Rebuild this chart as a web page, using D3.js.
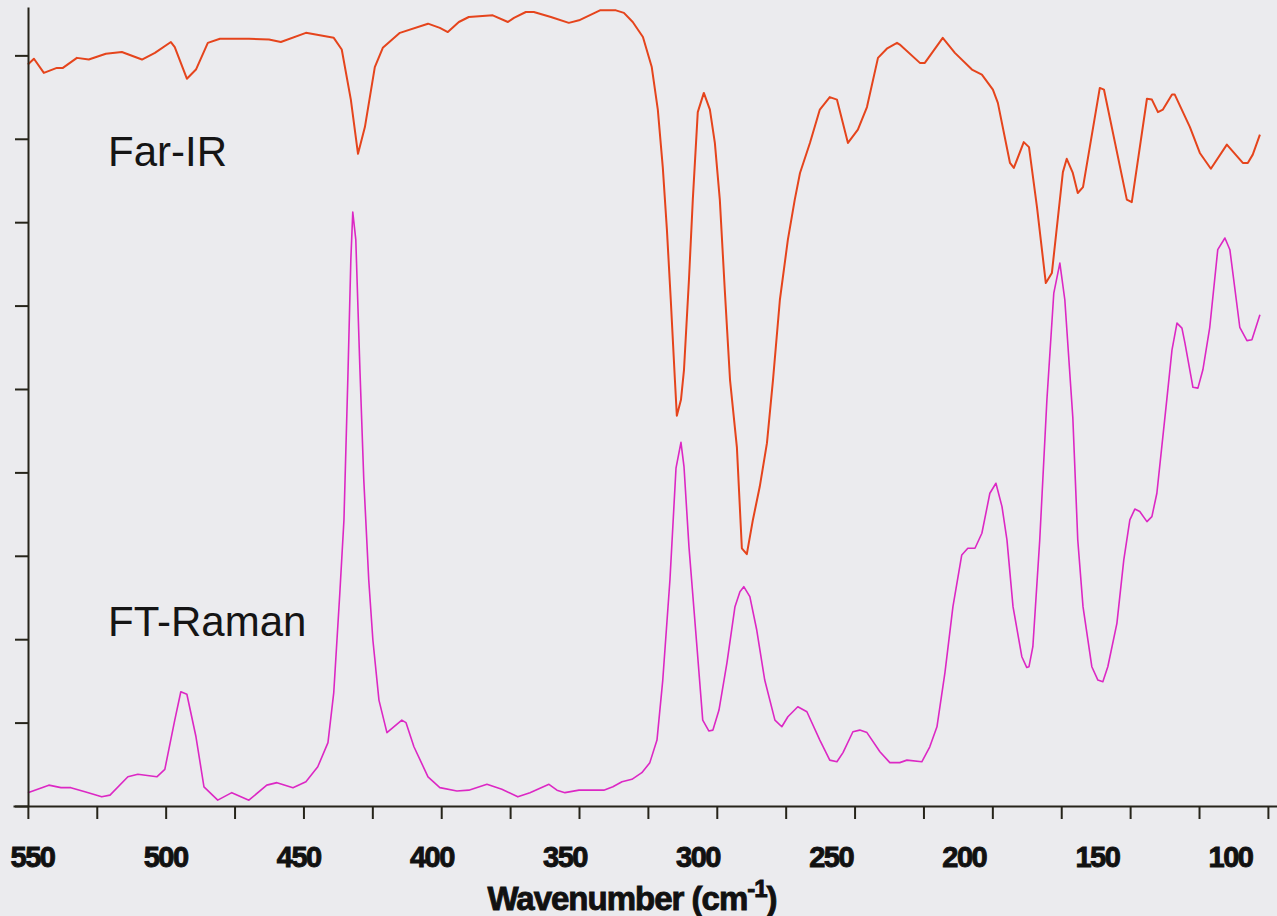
<!DOCTYPE html>
<html>
<head>
<meta charset="utf-8">
<script src="https://cdn.jsdelivr.net/npm/d3@7"></script>
<style>
    html, body { margin: 0; padding: 0; background: #ebebee; }
    svg { display: block; }
    .axis path, .axis line { stroke: #26241a; }
    .tick-label text { font-family: "Liberation Sans", Arial, sans-serif; font-weight: 900; fill: #111; stroke: #111; stroke-width: 0.9px; }
    .series-label { font-family: "Liberation Sans", Arial, sans-serif; font-size: 42px; fill: #151515; }
    .axis-title { font-family: "Liberation Sans", Arial, sans-serif; font-weight: 900; font-size: 33px; fill: #111; stroke: #111; stroke-width: 0.9px; }
</style>
</head>
<body>
<svg id="chart"></svg>
<script>
// wavenumber (cm-1) and relative signal
const irWavenumber = [550.0, 547.8, 544.2, 539.5, 537.3, 532.2, 527.9, 521.7, 515.9, 508.6, 503.9, 498.1, 496.7, 492.3, 489.0, 484.7, 480.3, 469.8, 462.5, 458.2, 449.1, 439.0, 436.1, 432.8, 430.2, 427.7, 424.1, 421.2, 415.0, 404.8, 400.5, 397.6, 393.6, 390.0, 381.3, 375.8, 373.6, 369.3, 366.4, 360.2, 353.7, 350.0, 342.4, 336.6, 333.7, 330.5, 326.8, 323.6, 321.4, 319.6, 318.1, 316.7, 315.2, 314.5, 313.0, 311.9, 310.1, 308.7, 306.9, 304.7, 302.5, 300.7, 298.9, 297.1, 295.2, 292.7, 290.9, 289.1, 286.9, 284.4, 281.8, 279.6, 277.1, 274.2, 271.7, 269.8, 266.2, 262.6, 259.0, 256.4, 252.4, 248.8, 245.5, 241.5, 238.3, 234.6, 233.6, 226.3, 224.5, 218.0, 213.6, 207.4, 203.8, 199.8, 198.0, 193.6, 192.2, 188.6, 186.7, 183.8, 180.6, 178.4, 174.4, 173.0, 170.8, 169.0, 167.1, 161.0, 159.5, 151.2, 149.4, 143.9, 142.1, 139.9, 138.1, 134.8, 133.8, 128.3, 124.7, 120.7, 114.9, 109.1, 107.3, 105.5, 102.9];
const irSignal = [8.89, 8.96, 8.79, 8.85, 8.85, 8.97, 8.95, 9.02, 9.04, 8.95, 9.03, 9.16, 9.10, 8.72, 8.83, 9.15, 9.20, 9.20, 9.19, 9.16, 9.27, 9.21, 9.07, 8.47, 7.82, 8.14, 8.86, 9.09, 9.27, 9.38, 9.33, 9.28, 9.40, 9.46, 9.48, 9.40, 9.45, 9.52, 9.52, 9.46, 9.39, 9.42, 9.54, 9.54, 9.51, 9.40, 9.22, 8.86, 8.35, 7.66, 6.91, 6.07, 5.11, 4.68, 4.87, 5.23, 6.31, 7.27, 8.32, 8.55, 8.35, 7.95, 7.27, 6.19, 5.11, 4.30, 3.09, 3.02, 3.43, 3.83, 4.35, 5.11, 6.07, 6.79, 7.27, 7.59, 7.95, 8.35, 8.50, 8.47, 7.95, 8.11, 8.38, 8.97, 9.08, 9.15, 9.13, 8.91, 8.91, 9.21, 9.03, 8.83, 8.77, 8.59, 8.43, 7.71, 7.65, 7.96, 7.90, 7.18, 6.27, 6.39, 7.60, 7.76, 7.59, 7.35, 7.42, 8.61, 8.59, 7.27, 7.24, 8.48, 8.47, 8.32, 8.35, 8.53, 8.53, 8.14, 7.83, 7.64, 7.93, 7.71, 7.71, 7.81, 8.05];

const ramanWavenumber = [550.0, 542.4, 538.0, 534.4, 529.3, 523.2, 520.2, 513.7, 510.1, 503.2, 500.3, 496.7, 494.5, 492.3, 489.0, 486.1, 481.1, 476.0, 469.8, 463.3, 459.6, 453.8, 449.1, 444.8, 441.1, 439.0, 436.8, 435.3, 433.9, 432.8, 432.1, 431.0, 429.5, 428.1, 426.3, 424.8, 422.6, 419.7, 414.3, 412.8, 409.9, 404.8, 400.5, 394.3, 390.0, 383.4, 378.0, 372.2, 367.8, 360.9, 358.0, 355.1, 350.0, 341.0, 337.7, 334.4, 330.8, 327.2, 324.3, 321.7, 319.6, 317.0, 314.8, 313.0, 311.9, 310.1, 307.2, 305.1, 302.9, 301.4, 299.2, 296.3, 293.4, 291.6, 290.2, 288.0, 285.5, 282.6, 278.9, 276.4, 274.2, 270.6, 267.3, 262.6, 259.0, 256.4, 254.2, 250.6, 248.1, 245.5, 240.8, 237.2, 233.6, 231.0, 225.6, 222.7, 220.1, 217.2, 214.3, 211.1, 208.9, 206.3, 203.8, 200.9, 198.7, 196.5, 194.7, 192.5, 189.3, 187.5, 186.7, 185.3, 182.8, 180.2, 177.7, 175.5, 173.7, 170.8, 169.0, 167.1, 163.9, 161.7, 159.9, 158.1, 154.8, 152.3, 150.1, 148.3, 146.5, 143.9, 142.1, 140.3, 136.7, 134.8, 133.0, 131.2, 130.1, 127.2, 125.4, 123.6, 121.1, 118.2, 115.6, 113.8, 110.2, 107.6, 105.8, 102.9];
const ramanSignal = [0.16, 0.25, 0.22, 0.22, 0.17, 0.11, 0.13, 0.35, 0.38, 0.35, 0.44, 1.03, 1.37, 1.34, 0.83, 0.23, 0.07, 0.16, 0.07, 0.25, 0.28, 0.22, 0.29, 0.47, 0.76, 1.36, 2.55, 3.43, 5.11, 6.55, 7.12, 6.79, 5.23, 3.91, 2.71, 1.99, 1.27, 0.88, 1.03, 1.00, 0.71, 0.35, 0.22, 0.18, 0.19, 0.26, 0.20, 0.11, 0.16, 0.26, 0.19, 0.16, 0.19, 0.19, 0.23, 0.29, 0.32, 0.40, 0.52, 0.79, 1.51, 2.71, 4.05, 4.36, 4.07, 3.11, 1.91, 1.03, 0.90, 0.91, 1.15, 1.72, 2.39, 2.57, 2.63, 2.51, 2.11, 1.51, 1.03, 0.95, 1.07, 1.19, 1.13, 0.79, 0.55, 0.53, 0.64, 0.89, 0.91, 0.88, 0.65, 0.52, 0.52, 0.55, 0.53, 0.71, 0.95, 1.60, 2.39, 3.01, 3.09, 3.09, 3.27, 3.75, 3.87, 3.59, 3.19, 2.39, 1.79, 1.66, 1.67, 1.91, 3.19, 4.87, 6.15, 6.51, 6.07, 4.66, 3.19, 2.39, 1.67, 1.51, 1.49, 1.67, 2.19, 2.95, 3.43, 3.56, 3.53, 3.41, 3.47, 3.75, 4.87, 5.47, 5.79, 5.73, 5.55, 5.02, 5.01, 5.23, 5.74, 6.67, 6.81, 6.67, 5.74, 5.58, 5.59, 5.89];

const xTickValues = [550, 525, 500, 475, 450, 425, 400, 375, 350, 325, 300, 275, 250, 225, 200, 175, 150, 125, 100];
const xLabelValues = [550, 500, 450, 400, 350, 300, 250, 200, 150, 100];
const yTickValues = [0, 1, 2, 3, 4, 5, 6, 7, 8, 9];

class SpectraChart {
    constructor(_config) {
        this.config = {
            parentElement: _config.parentElement,
            containerWidth: _config.containerWidth || 1277,
            containerHeight: _config.containerHeight || 916,
        };
        this.initVis();
    }

    initVis() {
        let vis = this;

        vis.svg = d3.select(vis.config.parentElement)
            .attr("width", vis.config.containerWidth)
            .attr("height", vis.config.containerHeight);

        // x runs high -> low, axis line runs past both end ticks
        vis.xScale = d3.scaleLinear().domain([555.4, 96.7]).range([13, 1277]);
        vis.yScale = d3.scaleLinear().domain([0, 9.58]).range([806, 7]);

        // the printed numbers sit on a slightly tighter spacing than the ticks
        vis.labelScale = d3.scaleLinear().domain([550, 100]).range([32, 1230]);

        vis.xAxis = d3.axisBottom(vis.xScale)
            .tickValues(xTickValues)
            .tickSize(13)
            .tickSizeOuter(0)
            .tickFormat("");

        vis.labelAxis = d3.axisBottom(vis.labelScale)
            .tickValues(xLabelValues)
            .tickSize(0)
            .tickPadding(40)
            .tickFormat(d3.format("d"));

        vis.yAxis = d3.axisLeft(vis.yScale)
            .tickValues(yTickValues)
            .tickSize(13)
            .tickSizeOuter(0)
            .tickFormat("");

        vis.line = d3.line()
            .x(d => vis.xScale(d.wn))
            .y(d => vis.yScale(d.v));
    }

    renderVis() {
        let vis = this;

        const ir = irWavenumber.map((wn, i) => ({ wn, v: irSignal[i] }));
        const raman = ramanWavenumber.map((wn, i) => ({ wn, v: ramanSignal[i] }));

        vis.svg.append("path")
            .datum(raman)
            .attr("fill", "none")
            .attr("stroke", "#dc28c4")
            .attr("stroke-width", 1.6)
            .attr("stroke-linejoin", "round")
            .attr("d", vis.line);

        vis.svg.append("path")
            .datum(ir)
            .attr("fill", "none")
            .attr("stroke", "#e5441c")
            .attr("stroke-width", 2)
            .attr("stroke-linejoin", "round")
            .attr("d", vis.line);

        const xAxisG = vis.svg.append("g")
            .attr("class", "axis x-axis")
            .attr("transform", "translate(0,806)")
            .call(vis.xAxis);
        xAxisG.select(".domain").attr("stroke-width", 2);
        xAxisG.selectAll(".tick line").attr("stroke-width", 2);

        const labelG = vis.svg.append("g")
            .attr("class", "tick-label")
            .attr("transform", "translate(0,806)")
            .call(vis.labelAxis);
        labelG.select(".domain").remove();
        labelG.selectAll("text")
            .attr("font-size", 29)
            .attr("letter-spacing", "-1.5px");

        const yAxisG = vis.svg.append("g")
            .attr("class", "axis y-axis")
            .attr("transform", "translate(28,0)")
            .call(vis.yAxis);
        yAxisG.select(".domain").attr("stroke-width", 2).attr("stroke", "#3a331a");
        yAxisG.selectAll(".tick line").attr("stroke-width", 2);

        vis.svg.append("text")
            .attr("class", "series-label")
            .attr("x", 108)
            .attr("y", 166)
            .text("Far-IR");

        vis.svg.append("text")
            .attr("class", "series-label")
            .attr("x", 108)
            .attr("y", 636)
            .text("FT-Raman");

        const title = vis.svg.append("text")
            .attr("class", "axis-title")
            .attr("x", 632)
            .attr("y", 910)
            .attr("text-anchor", "middle")
            .attr("letter-spacing", "-1px");
        title.append("tspan").text("Wavenumber (cm");
        title.append("tspan").attr("font-size", 24).attr("dy", -13).text("-1");
        title.append("tspan").attr("dy", 13).text(")");
    }
}

const chart = new SpectraChart({ parentElement: "#chart" });
chart.renderVis();
</script>
</body>
</html>
